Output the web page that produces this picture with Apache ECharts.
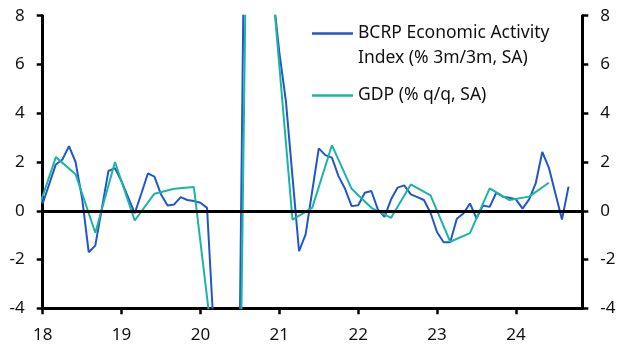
<!DOCTYPE html>
<html>
<head>
<meta charset="utf-8">
<script src="https://cdn.jsdelivr.net/npm/echarts@6/dist/echarts.min.js"></script>
<style>
html,body{margin:0;padding:0;background:#fff;}
#chart{width:630px;height:355px;}
</style>
</head>
<body>
<div id="chart"></div>
<script>
// Monthly BCRP activity index (% 3m/3m, SA), Jan 2018 onwards
const activityStart = [2018, 1];
const activity = [
  0.3, 1.1, 1.9, 2.1, 2.65, 2.0, 0.5, -1.7, -1.43, 0.1, 1.63, 1.75,
  1.2, 0.55, -0.1, 0.7, 1.53, 1.4, 0.67, 0.22, 0.26, 0.56, 0.44, 0.4,
  0.33, 0.12, -4.8, -20, -30, -26, -4.5, 20, 30, 22, 15, 9,
  6.5, 4.5, 1.4, -1.66, -0.97, 0.8, 2.56, 2.28, 2.18, 1.42, 0.9, 0.19,
  0.23, 0.74, 0.81, 0.05, -0.25, 0.47, 0.95, 1.04, 0.67, 0.56, 0.44, -0.08,
  -0.88, -1.29, -1.29, -0.33, -0.11, 0.3, -0.31, 0.22, 0.16, 0.74, 0.58, 0.53,
  0.47, 0.09, 0.47, 1.12, 2.41, 1.77, 0.71, -0.36, 0.99
];
// Quarterly GDP (% q/q, SA), Q4 2017 onwards (plotted at quarter-end month)
const gdpStart = [2017, 4];
const gdp = [
  -0.2,
  2.2, 1.5, -0.9, 2.0,
  -0.4, 0.7, 0.9, 0.97,
  -5.8, -30, 33, 9.1,
  -0.36, 0.12, 2.69, 0.9,
  0.12, -0.29, 1.08, 0.63,
  -1.27, -0.92, 0.92, 0.44,
  0.58, 1.15
];
const yearTicks = [2018, 2019, 2020, 2021, 2022, 2023, 2024];
const yTicks = [-4, -2, 0, 2, 4, 6, 8];
const seriesNames = ['BCRP Economic Activity Index (% 3m/3m, SA)', 'GDP (% q/q, SA)'];
const legendLabels = ['BCRP Economic Activity\nIndex (% 3m/3m, SA)', 'GDP (% q/q, SA)'];

const actData = activity.map((v, i) => [activityStart[0] + (activityStart[1] - 1 + i) / 12, v]);
const gdpData = gdp.map((v, j) => [gdpStart[0] + ((gdpStart[1] * 3 - 1) + 3 * j) / 12, v]);

const FONT = 'Noto Sans';
const axisLineStyle = { color: '#000', width: 3 };
function yAxisDef(pos) {
  return {
    type: 'value', position: pos, min: yTicks[0], max: yTicks[yTicks.length - 1], interval: 2,
    axisLine: { show: true, lineStyle: axisLineStyle },
    axisTick: { show: true, length: 6, lineStyle: { color: '#000', width: 2.5 } },
    axisLabel: { color: '#111', fontSize: 17, fontFamily: FONT, margin: 18 },
    splitLine: { show: false }
  };
}

const chart = echarts.init(document.getElementById('chart'), null, { renderer: 'canvas' });
chart.setOption({
  animation: false,
  backgroundColor: '#fff',
  grid: { left: 42.7, right: 47.7, top: 15.7, bottom: 46.7 },
  legend: {
    orient: 'vertical', left: 312, top: -4, padding: 0, itemGap: 12,
    icon: 'rect', itemWidth: 41, itemHeight: 2.5,
    textStyle: { fontSize: 17.5, fontFamily: FONT, color: '#111', lineHeight: 25 },
    data: seriesNames,
    formatter: function (name) {
      return name === seriesNames[0] ? '\n' + legendLabels[0] : legendLabels[1];
    }
  },
  xAxis: {
    type: 'value', min: 2018, max: 2024.841,
    axisLine: { show: true, onZero: false, lineStyle: axisLineStyle },
    axisTick: { show: true, length: 6, customValues: yearTicks, lineStyle: { color: '#000', width: 2.5 } },
    axisLabel: { customValues: yearTicks, color: '#111', fontSize: 17, fontFamily: FONT, margin: 18,
      formatter: v => String(Math.round(v)).slice(2) },
    splitLine: { show: false }
  },
  yAxis: [yAxisDef('left'), yAxisDef('right')],
  series: [
    {
      name: seriesNames[0], type: 'line', data: actData, showSymbol: false, symbol: 'none',
      lineStyle: { color: '#2256cc', width: 2 }, itemStyle: { color: '#2256cc' }, clip: true, z: 2
    },
    {
      name: seriesNames[1], type: 'line', data: gdpData, showSymbol: false, symbol: 'none',
      lineStyle: { color: '#1bb5a3', width: 2 }, itemStyle: { color: '#1bb5a3' }, clip: true, z: 3,
      markLine: {
        silent: true, symbol: ['none', 'none'], label: { show: false },
        lineStyle: { color: '#000', width: 3, type: 'solid' },
        data: [{ yAxis: 0 }]
      }
    }
  ]
});
</script>
</body>
</html>
